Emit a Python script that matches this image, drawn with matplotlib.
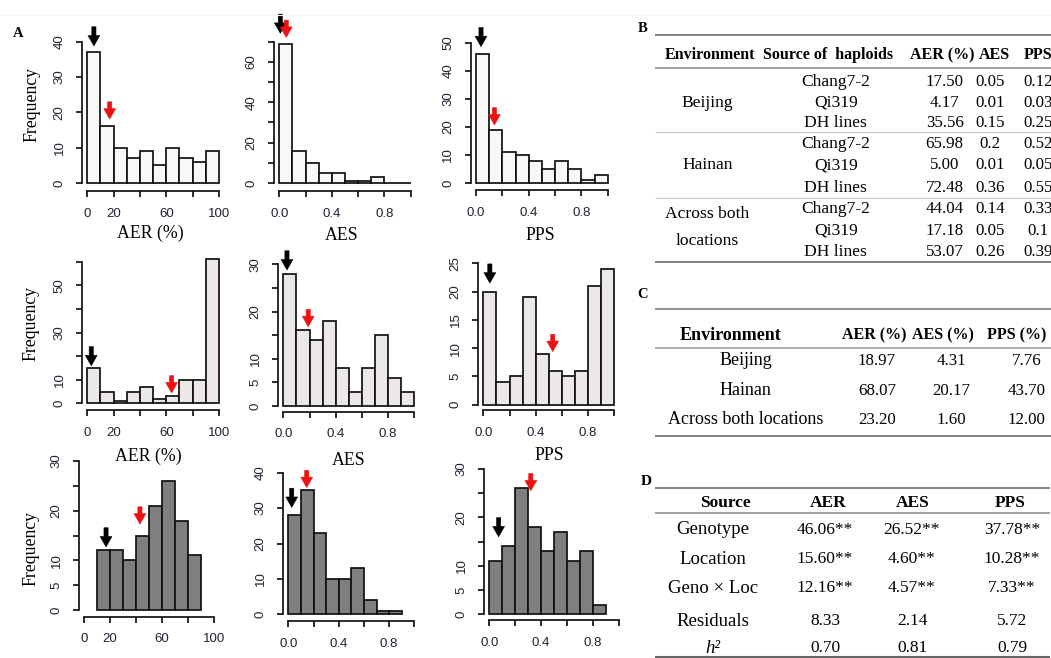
import matplotlib
matplotlib.use('Agg')
import matplotlib.pyplot as plt
import numpy as np
from matplotlib.lines import Line2D

W, H = 1051, 658

# ---------------- data (histogram counts) ----------------
aer_edges = [0, 10, 20, 30, 40, 50, 60, 70, 80, 90, 100]
frac_edges = [0.0, 0.1, 0.2, 0.3, 0.4, 0.5, 0.6, 0.7, 0.8, 0.9, 1.0]
aer_edges_ab = [10, 20, 30, 40, 50, 60, 70, 80, 90]
frac_edges_ab = [0.0, 0.1, 0.2, 0.3, 0.4, 0.5, 0.6, 0.7, 0.8, 0.9]

bj_aer = [37, 16, 10, 7, 9, 5, 10, 7, 6, 9]
bj_aes = [69, 16, 10, 5, 5, 1, 1, 3, 0, 0]
bj_pps = [46, 19, 11, 10, 8, 5, 8, 5, 1, 3]
hn_aer = [15, 5, 1, 5, 7, 2, 3, 10, 10, 61]
hn_aes = [28, 16, 14, 18, 8, 3, 8, 15, 6, 3]
hn_pps = [20, 4, 5, 19, 9, 6, 5, 6, 21, 24]
ab_aer = [12, 12, 10, 15, 21, 26, 18, 11]
ab_aes = [28, 35, 23, 10, 10, 13, 4, 1, 1]
ab_pps = [11, 14, 26, 18, 13, 17, 11, 13, 2]

# parent positions (arrows): (black x, black tip y, red x, red tip y)
arr_bj_aer = (5, 38.8, 17, 18.1)
arr_bj_aes = (0.008, 74.2, 0.053, 72.2)
arr_bj_pps = (0.038, 48.6, 0.14, 20.7)
arr_hn_aer = (3, 15.9, 64, 4.4)
arr_hn_aes = (0.028, 28.8, 0.19, 16.8)
arr_hn_pps = (0.05, 21.5, 0.53, 9.4)
arr_ab_aer = (16.8, 12.7, 43, 17.3)
arr_ab_aes = (0.027, 30.2, 0.146, 35.8)
arr_ab_pps = (0.072, 16.0, 0.32, 25.5)

# tick labels
aer_xticks = [0, 20, 40, 60, 80, 100]
aer_xlabels = ['0', '20', '', '60', '', '100']
frac_xticks = [0.0, 0.2, 0.4, 0.6, 0.8, 1.0]
frac_xlabels = ['0.0', '', '0.4', '', '0.8', '']

yt_bj_aer = ([0, 10, 20, 30, 40], ['0', '10', '20', '30', '40'])
yt_bj_aes = ([0, 10, 20, 30, 40, 50, 60, 70], ['0', '', '20', '', '40', '', '60', ''])
yt_bj_pps = ([0, 10, 20, 30, 40, 50], ['0', '10', '20', '30', '40', '50'])
yt_hn_aer = ([0, 10, 20, 30, 40, 50, 60], ['0', '10', '', '30', '', '50', ''])
yt_hn_aes = ([0, 5, 10, 15, 20, 25, 30], ['0', '5', '10', '', '20', '', '30'])
yt_hn_pps = ([0, 5, 10, 15, 20, 25], ['0', '5', '10', '15', '20', '25'])
yt_ab_aer = ([0, 5, 10, 15, 20, 25, 30], ['0', '5', '10', '', '20', '', '30'])
yt_ab_aes = ([0, 10, 20, 30, 40], ['0', '10', '20', '30', '40'])
yt_ab_pps = ([0, 5, 10, 15, 20, 25, 30], ['0', '5', '10', '', '20', '', '30'])

# ---------------- table data ----------------
b_header = ['Environment', 'Source of  haploids', 'AER (%)', 'AES', 'PPS']
b_env = ['Beijing', 'Hainan', 'Across both', 'locations']
b_source = ['Chang7-2', 'Qi319', 'DH lines'] * 3
b_aer = ['17.50', '4.17', '35.56', '65.98', '5.00', '72.48', '44.04', '17.18', '53.07']
b_aes = ['0.05', '0.01', '0.15', '0.2', '0.01', '0.36', '0.14', '0.05', '0.26']
b_pps = ['0.12', '0.03', '0.25', '0.52', '0.05', '0.55', '0.33', '0.1', '0.39']

c_header = ['Environment', 'AER (%)', 'AES (%)', 'PPS (%)']
c_env = ['Beijing', 'Hainan', 'Across both locations']
c_aer = ['18.97', '68.07', '23.20']
c_aes = ['4.31', '20.17', '1.60']
c_pps = ['7.76', '43.70', '12.00']

d_header = ['Source', 'AER', 'AES', 'PPS']
d_source = ['Genotype', 'Location', 'Geno \u00d7 Loc', 'Residuals', 'h\u00b2']
d_aer = ['46.06**', '15.60**', '12.16**', '8.33', '0.70']
d_aes = ['26.52**', '4.60**', '4.57**', '2.14', '0.81']
d_pps = ['37.78**', '10.28**', '7.33**', '5.72', '0.79']

# ---------------- figure ----------------
fig = plt.figure(figsize=(W / 100, H / 100), dpi=100)
fig.patch.set_facecolor('white')
SERIF = 'Liberation Serif'
SANS = 'Liberation Sans'
TICKC = '#1f2230'
PT = 0.72  # points per pixel


def fx(x):
    return x / W


def fy(y):
    return 1 - y / H


def T(x, y, s, **kw):
    kw.setdefault('ha', 'center')
    kw.setdefault('va', 'center')
    kw.setdefault('fontfamily', SERIF)
    return fig.text(fx(x), fy(y), s, **kw)


def HL(x0, x1, y, lw=1.0, color='#666666'):
    fig.add_artist(Line2D([fx(x0), fx(x1)], [fy(y), fy(y)], transform=fig.transFigure,
                          lw=lw, color=color, solid_capstyle='butt'))


# faint top line
HL(0, W, 15, lw=0.8, color='#f4f4f4')

fills = {1: '#f8f8f8', 2: '#ede8e8', 3: '#7f7f7f'}

panels = [
    # counts, edges, arrows, yticks, xticks, xlabels, x0,x1,xd, y0,y1,ytop, xoff, row
    (bj_aer, aer_edges, arr_bj_aer, yt_bj_aer, aer_xticks, aer_xlabels, 87.3, 219, (0, 100), 183, 41.7, 40, 8, 1),
    (bj_aes, frac_edges, arr_bj_aes, yt_bj_aes, frac_xticks, frac_xlabels, 279.3, 410.7, (0, 1), 183, 41.8, 70, 8, 1),
    (bj_pps, frac_edges, arr_bj_pps, yt_bj_pps, frac_xticks, frac_xlabels, 476, 607.7, (0, 1), 183, 42.7, 50, 7, 1),
    (hn_aer, aer_edges, arr_hn_aer, yt_hn_aer, aer_xticks, aer_xlabels, 87.3, 219, (0, 100), 403.3, 261.7, 60, 6.7, 2),
    (hn_aes, frac_edges, arr_hn_aes, yt_hn_aes, frac_xticks, frac_xlabels, 283.3, 414.3, (0, 1), 406, 264.3, 30, 5.7, 2),
    (hn_pps, frac_edges, arr_hn_pps, yt_hn_pps, frac_xticks, frac_xlabels, 483.3, 614.3, (0, 1), 404.7, 263.3, 25, 5.5, 2),
    (ab_aer, aer_edges_ab, arr_ab_aer, yt_ab_aer, aer_xticks, aer_xlabels, 84.3, 213.7, (0, 100), 610, 461, 30, 6.7, 3),
    (ab_aes, frac_edges_ab, arr_ab_aes, yt_ab_aes, frac_xticks, frac_xlabels, 288.3, 414.3, (0, 1), 614.3, 472.7, 40, 6.7, 3),
    (ab_pps, frac_edges_ab, arr_ab_pps, yt_ab_pps, frac_xticks, frac_xlabels, 489.3, 619, (0, 1), 614.3, 469, 30, 6, 3),
]

LW = 1.25
for (counts, edges, arrows, yt, xt, xl, x0, x1, xd, y0, y1, ytop, xoff, row) in panels:
    ax = fig.add_axes([fx(x0), fy(y0), (x1 - x0) / W, (y0 - y1) / H])
    ax.set_xlim(*xd)
    ax.set_ylim(0, ytop)
    ax.patch.set_alpha(0)
    e = np.asarray(edges, dtype=float)
    ax.bar(e[:-1], counts, width=np.diff(e), align='edge', color=fills[row],
           edgecolor='#111111', linewidth=LW, clip_on=False, zorder=2)
    for s in ('top', 'right'):
        ax.spines[s].set_visible(False)
    ax.spines['left'].set_position(('outward', 5 * PT))
    ax.spines['bottom'].set_position(('outward', xoff * PT))
    ax.spines['left'].set_bounds(0, ytop)
    ax.spines['bottom'].set_bounds(xt[0], xt[-1])
    for s in ('left', 'bottom'):
        ax.spines[s].set_linewidth(LW)
        ax.spines[s].set_color('#111111')
    ax.set_xticks(xt)
    ax.set_xticklabels(xl)
    ax.set_yticks(yt[0])
    ax.set_yticklabels(yt[1])
    ax.tick_params(length=4.5, width=LW, color='#111111', pad=7.5,
                   labelsize=9.5, labelcolor=TICKC)
    ax.tick_params(axis='y', labelrotation=90)
    for lbl in ax.get_xticklabels() + ax.get_yticklabels():
        lbl.set_fontfamily(SANS)
    for lbl in ax.get_yticklabels():
        lbl.set_va('center')
    bx, by, rx, ry = arrows
    for (xx, yy, col, L) in ((bx, by, 'black', 13.8), (rx, ry, '#ee1111', 12.4)):
        ax.annotate('', xy=(xx, yy), xytext=(0, L), textcoords='offset points',
                    arrowprops=dict(arrowstyle='simple,head_length=0.75,head_width=0.85,tail_width=0.3',
                                    fc=col, ec=col, lw=0.4, mutation_scale=10,
                                    shrinkA=0, shrinkB=0),
                    annotation_clip=False, zorder=5)

# axis titles
for (x, y) in ((32, 105), (31.3, 323.3), (30.8, 548.3)):
    T(x, y, 'Frequency', rotation=90, fontsize=12.8)
for (s, x, y) in (('AER (%)', 150.5, 233.3), ('AES', 341.3, 235), ('PPS', 540, 235),
                  ('AER (%)', 148.3, 456.7), ('AES', 349, 460.7), ('PPS', 549, 455)):
    T(x, y, s, fontsize=12.8)

# panel letters
T(18.3, 33.5, 'A', fontsize=10.5, fontweight='bold')
T(642.5, 28.3, 'B', fontsize=10.5, fontweight='bold')
T(643, 294, 'C', fontsize=10.5, fontweight='bold')
T(646, 481.3, 'D', fontsize=11, fontweight='bold')

# ---------------- Table B ----------------
HL(655, W, 35, lw=1.3, color='#777777')
HL(655, W, 68.3, lw=1.1, color='#888888')
HL(655, W, 132.3, lw=0.8, color='#c8c8c8')
HL(655, W, 197.7, lw=0.8, color='#c8c8c8')
HL(655, W, 262.3, lw=1.3, color='#777777')
for s, x in zip(b_header, (665, 762.7, 910, 979, 1023.3)):
    T(x, 55, s, ha='left', fontsize=11.5, fontweight='bold')
for s, y in zip(b_env, (102.7, 165.3, 214.3, 240.7)):
    T(707.3, y, s, fontsize=12.6)
b_rows_y = [81.7, 102.7, 123.3, 144.3, 165.3, 188.3, 209.3, 230.7, 252.3]
for i, y in enumerate(b_rows_y):
    T(835.7, y, b_source[i], fontsize=12.6)
    T(944.7, y, b_aer[i], fontsize=12.2)
    T(990, y, b_aes[i], fontsize=12.2)
    T(1038, y, b_pps[i], fontsize=12.2)

# ---------------- Table C ----------------
HL(655, W, 309, lw=1.3, color='#888888')
HL(655, W, 348.3, lw=1.1, color='#999999')
HL(655, W, 435.7, lw=1.3, color='#777777')
T(730.8, 335, c_header[0], fontsize=13, fontweight='bold')
T(874.7, 335, c_header[1], fontsize=11.5, fontweight='bold')
T(942.5, 335, c_header[2], fontsize=11.5, fontweight='bold')
T(987, 335, c_header[3], ha='left', fontsize=11.5, fontweight='bold')
for i, y in enumerate((360.7, 390.7, 420)):
    T(745.5, y, c_env[i], fontsize=13)
    T(877, y, c_aer[i], fontsize=12.2)
    T(951, y, c_aes[i], fontsize=12.2)
    T(1026.7, y, c_pps[i], fontsize=12.2)

# ---------------- Table D ----------------
HL(655, 1050, 488.3, lw=1.3, color='#777777')
HL(655, 1050, 513.3, lw=1.1, color='#888888')
HL(655, 1050, 656.5, lw=1.5, color='#666666')
for s, x in zip(d_header, (725.3, 827.8, 913.2, 1009.7)):
    T(x, 503.3, s, fontsize=12.5, fontweight='bold')
for i, y in enumerate((530, 559.3, 588.3, 621, 648.3)):
    if i == 4:
        T(713, y, d_source[i], fontsize=13.5, fontstyle='italic')
    else:
        T(713, y, d_source[i], fontsize=13.5)
    T(825, y, d_aer[i], fontsize=12.5)
    T(912, y, d_aes[i], fontsize=12.5)
    T(1012, y, d_pps[i], fontsize=12.5)

fig.savefig('out.png', dpi=100, facecolor='white')
